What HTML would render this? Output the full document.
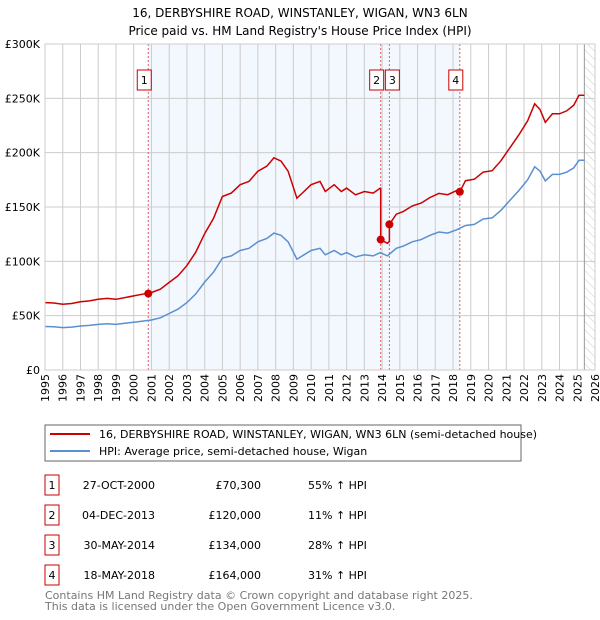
<!DOCTYPE html>
<html><head><meta charset="utf-8"><style>
body{margin:0;background:#fff;}
svg{display:block;font-family:"DejaVu Sans","Liberation Sans",sans-serif;}
</style></head><body>
<svg id="c" width="600" height="620" xmlns="http://www.w3.org/2000/svg">
<text x="300" y="17" text-anchor="middle" font-size="12">16, DERBYSHIRE ROAD, WINSTANLEY, WIGAN, WN3 6LN</text>
<text x="300" y="35" text-anchor="middle" font-size="12">Price paid vs. HM Land Registry's House Price Index (HPI)</text>
<g id="plot"></g>
<g>
<rect x="45" y="425" width="476" height="36" fill="#fff" stroke="#666"/>
<line x1="50" y1="434" x2="90" y2="434" stroke="#cc0000" stroke-width="2"/>
<text x="99" y="438" font-size="11">16, DERBYSHIRE ROAD, WINSTANLEY, WIGAN, WN3 6LN (semi-detached house)</text>
<line x1="50" y1="451" x2="90" y2="451" stroke="#5b8fd0" stroke-width="2"/>
<text x="99" y="455" font-size="11">HPI: Average price, semi-detached house, Wigan</text>
</g>
<g id="tbl" font-size="11"></g>
<text x="45" y="599" font-size="11" fill="#777">Contains HM Land Registry data © Crown copyright and database right 2025.</text>
<text x="45" y="610" font-size="11" fill="#777">This data is licensed under the Open Government Licence v3.0.</text>
</svg>
<script>
const hpiYears=[1995,1995.5,1996,1996.5,1997,1997.5,1998,1998.5,1999,1999.5,2000,2000.5,2001,2001.5,2002,2002.5,2003,2003.5,2004,2004.5,2005,2005.5,2006,2006.5,2007,2007.5,2007.9,2008.3,2008.7,2009.2,2009.6,2010,2010.5,2010.8,2011.3,2011.7,2012,2012.5,2013,2013.5,2013.9,2014.3,2014.8,2015.2,2015.7,2016.2,2016.7,2017.2,2017.7,2018.2,2018.7,2019.2,2019.7,2020.2,2020.7,2021.2,2021.7,2022.2,2022.6,2022.9,2023.2,2023.6,2024,2024.4,2024.8,2025.1,2025.4];
const hpiValues=[40,39.8,39,39.5,40.5,41,42,42.5,42,43,44,45,46,48,52,56,62,70,81,90,103,105,110,112,118,121,126,124,118,102,106,110,112,106,110,106,108,104,106,105,108,105,112,114,118,120,124,127,126,129,133,134,139,140,147,156,165,175,187,183,174,180,180,182,186,193,193];
const saleYears=[2000.82,2013.92,2014.41,2018.38];
const salePrices=[70.3,120,134,164];
const saleFactors=[1.55,1.11,1.28,1.31];
const saleLabels=["1","2","3","4"];
const saleDates=["27-OCT-2000","04-DEC-2013","30-MAY-2014","18-MAY-2018"];
const salePriceText=["£70,300","£120,000","£134,000","£164,000"];
const saleHpiText=["55% ↑ HPI","11% ↑ HPI","28% ↑ HPI","31% ↑ HPI"];
const yTicks=[0,50,100,150,200,250,300];
const yTickLabels=["£0","£50K","£100K","£150K","£200K","£250K","£300K"];
const xTicks=[1995,1996,1997,1998,1999,2000,2001,2002,2003,2004,2005,2006,2007,2008,2009,2010,2011,2012,2013,2014,2015,2016,2017,2018,2019,2020,2021,2022,2023,2024,2025,2026];

const NS="http://www.w3.org/2000/svg";
const L=45,R=595,T=44,B=370;
const xs=y=>L+(y-1995)/31*(R-L);
const ys=v=>B-v/300*(B-T);
function mk(tag,attrs,parent){const e=document.createElementNS(NS,tag);for(const k in attrs)e.setAttribute(k,attrs[k]);parent.appendChild(e);return e;}
const g=document.getElementById('plot');
let e=mk('rect',{x:L,y:T,width:R-L,height:B-T,fill:'#fff'},g);


e=mk('rect',{x:xs(saleYears[0]),y:T,width:xs(saleYears[3])-xs(saleYears[0]),height:B-T,fill:'#eef3fd',opacity:0.7},g);


const defs=mk('defs',{},g);
const pat=mk('pattern',{id:'hatch',width:6,height:6,patternUnits:'userSpaceOnUse',patternTransform:'rotate(-45)'},defs);
mk('line',{x1:0,y1:0,x2:0,y2:6,stroke:'#ccc','stroke-width':1},pat);
e=mk('rect',{x:xs(2025.4),y:T,width:R-xs(2025.4),height:B-T,fill:'url(#hatch)'},g);


xTicks.forEach((t,i)=>{
 e=mk('line',{x1:xs(t),x2:xs(t),y1:T,y2:B,stroke:'#ccc','stroke-width':1},g);
 
 
 const tx=xs(t)+4, ty=374;
 e=mk('text',{x:tx,y:ty,'text-anchor':'end','font-size':11,transform:'rotate(-90 '+tx+' '+ty+')'},g);
 e.textContent=t;
 
 
});
yTicks.forEach((t,i)=>{
 e=mk('line',{x1:L,x2:R,y1:ys(t),y2:ys(t),stroke:'#ccc','stroke-width':1},g);
 
 
 e=mk('text',{x:40,y:ys(t)+4,'text-anchor':'end','font-size':11},g);
 e.textContent=yTickLabels[i];
 
 
});
e=mk('line',{x1:xs(2025.4),x2:xs(2025.4),y1:T,y2:B,stroke:'#999','stroke-width':1},g);


saleYears.forEach((s,i)=>{
 e=mk('line',{x1:xs(s),x2:xs(s),y1:T,y2:B,stroke:'#e06060','stroke-width':1,'stroke-dasharray':'2,2'},g);
 
 
});
function hpiAt(y){for(let i=1;i<hpiYears.length;i++){if(y<=hpiYears[i]){const f=(y-hpiYears[i-1])/(hpiYears[i]-hpiYears[i-1]);return hpiValues[i-1]+f*(hpiValues[i]-hpiValues[i-1]);}}return hpiValues[hpiValues.length-1];}
let d=hpiYears.map((y,i)=>(i?'L':'M')+xs(y).toFixed(1)+','+ys(hpiValues[i]).toFixed(1)).join('');
e=mk('path',{d:d,fill:'none',stroke:'#5b8fd0','stroke-width':1.5},g);


function factorAt(y){let f=saleFactors[0];saleYears.forEach((s,i)=>{if(y>=s)f=saleFactors[i];});return f;}
let pts=[];
hpiYears.forEach((y,i)=>{
 saleYears.forEach((s,j)=>{ if(j>0 && i>0 && s>hpiYears[i-1]&&s<=y){pts.push([s,hpiAt(s)*saleFactors[j-1]]);pts.push([s,salePrices[j]]);} });
 pts.push([y,hpiValues[i]*factorAt(y)]);
});
d=pts.map((p,i)=>(i?'L':'M')+xs(p[0]).toFixed(1)+','+ys(p[1]).toFixed(1)).join('');
e=mk('path',{d:d,fill:'none',stroke:'#cc0000','stroke-width':1.5},g);


saleYears.forEach((s,i)=>{
 e=mk('circle',{cx:xs(s),cy:ys(salePrices[i]),r:4,fill:'#cc0000'},g);
 
 
 const x0=i==2?xs(s)-4:xs(s)-11;
 e=mk('rect',{x:x0,y:70,width:14,height:20,fill:'#fff',stroke:'#cc0000'},g);
 
 
 e=mk('text',{x:x0+7,y:84,'text-anchor':'middle','font-size':11},g);
 e.textContent=saleLabels[i];
 
 
});
e=mk('rect',{x:L,y:T,width:R-L,height:B-T,fill:'none',stroke:'#ccc'},g);


const tb=document.getElementById('tbl');
saleLabels.forEach((lb,i)=>{
 const cy=485+i*30;
 e=mk('rect',{x:45,y:cy-10,width:14,height:20,fill:'#fff',stroke:'#cc0000'},tb);
 
 
 e=mk('text',{x:52,y:cy+4,'text-anchor':'middle'},tb);e.textContent=lb;
 
 
 e=mk('text',{x:155,y:cy+4,'text-anchor':'end'},tb);e.textContent=saleDates[i];
 
 
 e=mk('text',{x:261,y:cy+4,'text-anchor':'end'},tb);e.textContent=salePriceText[i];
 
 
 e=mk('text',{x:308,y:cy+4},tb);e.textContent=saleHpiText[i];
 
 
});
</script>
</body></html>
